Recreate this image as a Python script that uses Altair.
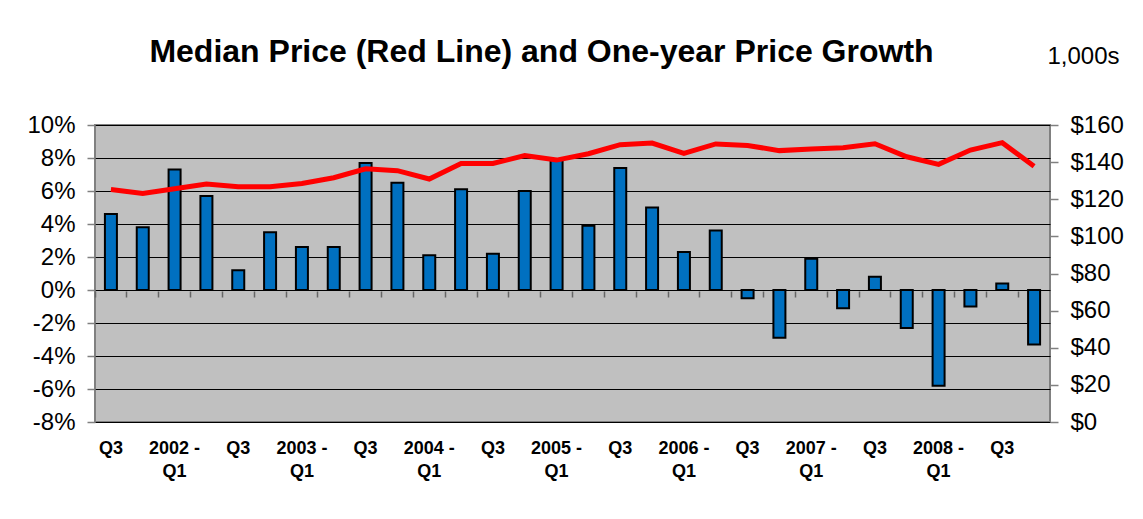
import altair as alt
import pandas as pd

quarters = [
    "2001 Q3", "2001 Q4",
    "2002 Q1", "2002 Q2", "2002 Q3", "2002 Q4",
    "2003 Q1", "2003 Q2", "2003 Q3", "2003 Q4",
    "2004 Q1", "2004 Q2", "2004 Q3", "2004 Q4",
    "2005 Q1", "2005 Q2", "2005 Q3", "2005 Q4",
    "2006 Q1", "2006 Q2", "2006 Q3", "2006 Q4",
    "2007 Q1", "2007 Q2", "2007 Q3", "2007 Q4",
    "2008 Q1", "2008 Q2", "2008 Q3", "2008 Q4",
]
tick_labels = [
    "Q3", "",
    "2002 -|Q1", "", "Q3", "",
    "2003 -|Q1", "", "Q3", "",
    "2004 -|Q1", "", "Q3", "",
    "2005 -|Q1", "", "Q3", "",
    "2006 -|Q1", "", "Q3", "",
    "2007 -|Q1", "", "Q3", "",
    "2008 -|Q1", "", "Q3", "",
]
# one-year price growth, percent
growth = [4.6, 3.8, 7.3, 5.7, 1.2, 3.5, 2.6, 2.6, 7.7, 6.5,
          2.1, 6.1, 2.2, 6.0, 7.9, 3.9, 7.4, 5.0, 2.3, 3.6,
          -0.5, -2.9, 1.9, -1.1, 0.8, -2.3, -5.8, -1.0, 0.4, -3.3]
# median price, $ thousands
price = [125.3, 123.1, 125.7, 128.2, 126.7, 126.7, 128.5, 131.6, 136.4, 135.4,
         130.9, 139.3, 139.3, 143.5, 141.1, 144.5, 149.4, 150.3, 144.7, 149.8,
         149.0, 146.2, 147.1, 147.8, 149.9, 142.9, 138.8, 146.5, 150.5, 137.8]

growth_ticks = list(range(-8, 11, 2))
price_ticks = list(range(0, 161, 20))

df = pd.DataFrame({"quarter": quarters, "growth": growth, "price": price})

keys_js = "[" + ",".join(f"'{q}'" for q in quarters) + "]"
labs_js = "[" + ",".join(f"'{l}'" for l in tick_labels) + "]"
label_expr = f"split({labs_js}[indexof({keys_js}, datum.value)], '|')"

FONT = "Liberation Sans"
xscale = alt.Scale(paddingInner=0, paddingOuter=0)

bars = alt.Chart(df).mark_bar(
    size=12, color="#0070C0", stroke="#000000", strokeWidth=2
).encode(
    x=alt.X("quarter:N", sort=quarters, scale=xscale,
            axis=alt.Axis(title=None, labelExpr=label_expr, labelAngle=0,
                          ticks=False, domain=False, labelPadding=17,
                          labelFontSize=18, labelFontWeight="bold",
                          labelLineHeight=23, labelColor="#000000",
                          labelBaseline="top", labelFont=FONT)),
    y=alt.Y("growth:Q",
            scale=alt.Scale(domain=[-8, 10], nice=False, zero=False),
            axis=alt.Axis(title=None, values=growth_ticks,
                          labelExpr="datum.value + '%'",
                          grid=True, gridColor="#000000", gridWidth=1,
                          tickColor="#808080", tickSize=8, tickWidth=1.5,
                          labelPadding=12, labelFontSize=24,
                          labelColor="#000000", labelFont=FONT,
                          domain=False)),
)

line = alt.Chart(df).mark_line(color="#FF0000", strokeWidth=5).encode(
    x=alt.X("quarter:N", sort=quarters, scale=xscale,
            axis=alt.Axis(title=None, orient="bottom", offset=-131,
                          labels=False, domain=False, ticks=True,
                          tickSize=6, tickColor="#666666", tickWidth=1.5,
                          bandPosition=0)),
    y=alt.Y("price:Q",
            scale=alt.Scale(domain=[0, 160], nice=False),
            axis=alt.Axis(orient="right", values=price_ticks,
                          labelExpr="'$' + datum.value",
                          grid=False, tickColor="#808080", tickSize=8,
                          tickWidth=1.5, labelPadding=12, labelFontSize=24,
                          labelColor="#000000", labelFont=FONT, domain=False,
                          title="1,000s", titleAngle=0, titleX=-3,
                          titleY=-62, titleAlign="left",
                          titleBaseline="alphabetic", titleFontSize=24,
                          titleFontWeight="normal", titleFont=FONT,
                          titleColor="#000000")),
)

chart = alt.layer(bars, line).resolve_scale(y="independent").resolve_axis(
    x="independent"
).properties(
    width=955,
    height=297,
    padding={"left": 87, "top": 117, "right": 85, "bottom": 89},
    autosize=alt.AutoSizeParams(type="none"),
    background="#FFFFFF",
    title=alt.TitleParams(
        "Median Price (Red Line) and One-year Price Growth",
        fontSize=32, fontWeight="bold", font=FONT, color="#000000",
        anchor="middle", dx=-31, dy=50, baseline="alphabetic", offset=0,
    ),
).configure_view(
    fill="#C0C0C0", stroke="#808080", strokeWidth=2
)

chart.save("out.html", embed_options={"renderer": "svg", "actions": False})
